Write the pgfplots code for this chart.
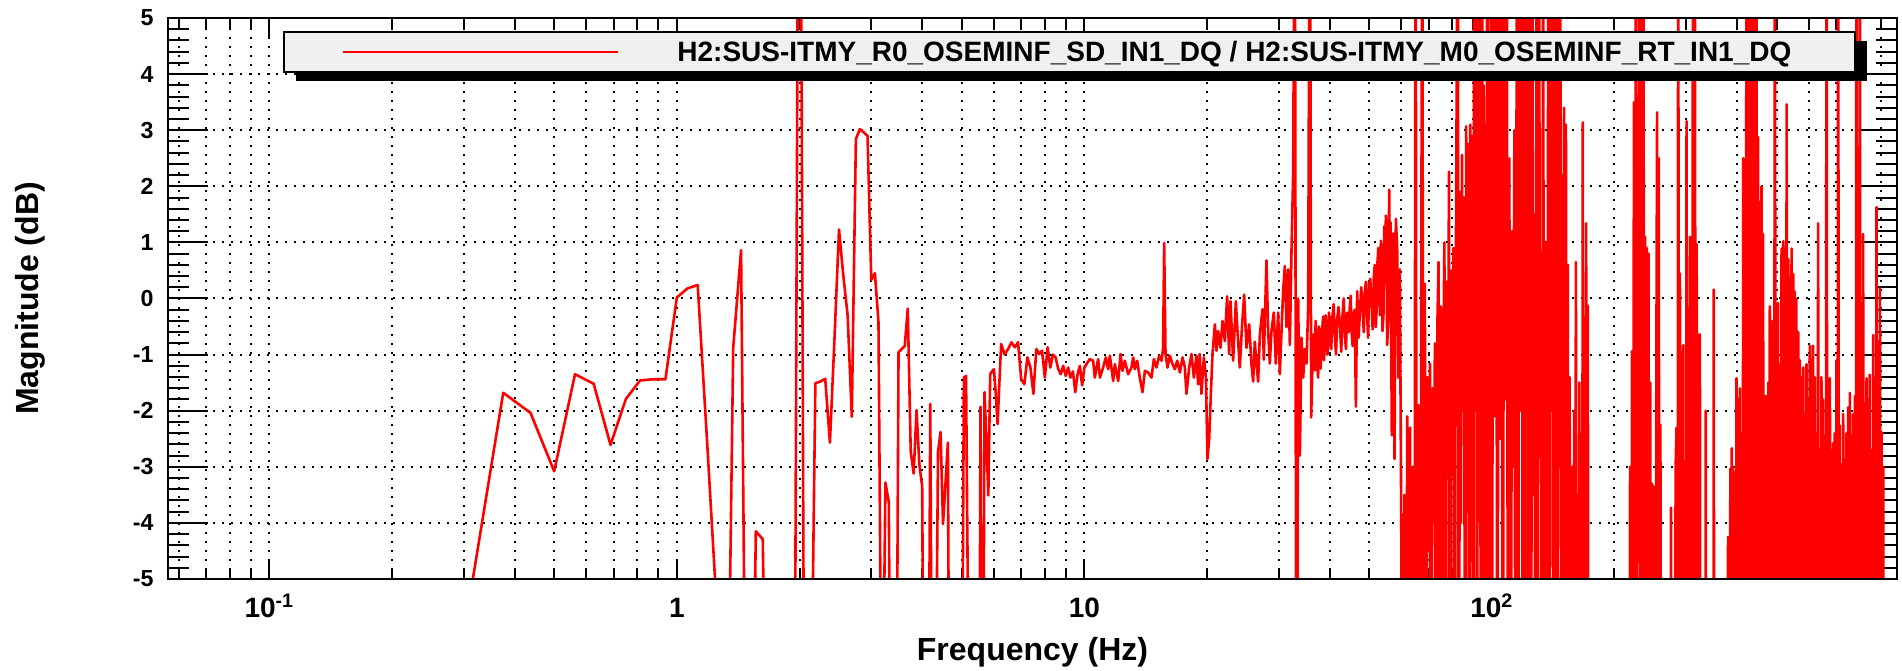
\documentclass[border=0pt]{standalone}
\usepackage{fontspec}
\setmainfont{Liberation Sans}
\usepackage{pgfplots}
\pgfplotsset{compat=1.18}
\definecolor{legbg}{RGB}{240,240,240}

\begin{document}
\begin{tikzpicture}[font=\bfseries]
\begin{axis}[name=ax, scale only axis, width=864.5pt, height=280.5pt,
  xmode=log, xmin=0.0564, xmax=987, ymin=-5, ymax=5,
  xtick={0.1,1,10,100}, xticklabels={10\textsuperscript{-1},1,10,10\textsuperscript{2}},
  minor xtick={0.06,0.07,0.08,0.09,0.2,0.3,0.4,0.5,0.6,0.7,0.8,0.9,2,3,4,5,6,7,8,9,
    20,30,40,50,60,70,80,90,200,300,400,500,600,700,800,900},
  ytick={-5,-4,-3,-2,-1,0,1,2,3,4,5}, yticklabels={-5,-4,-3,-2,-1,0,1,2,3,4,5},
  minor y tick num=4,
  tick align=inside, tick pos=both, xticklabel pos=lower, yticklabel pos=left,
  xmajorgrids, xminorgrids, ymajorgrids,
  major grid style={black, line width=1pt, dash pattern=on 1.2pt off 3.3pt},
  minor grid style={black, line width=1pt, dash pattern=on 1.2pt off 3.3pt},
  axis line style={line width=1.2pt},
  xtick style={black, line width=1pt, /pgfplots/major tick length=10pt, /pgfplots/minor tick length=5.5pt},
  ytick style={black, line width=1pt, /pgfplots/major tick length=20pt, /pgfplots/minor tick length=10.5pt},
  xticklabel style={font=\fontsize{14}{16}\bfseries\selectfont, anchor=base, inner sep=0pt, yshift=-19.5pt},
  yticklabel style={font=\fontsize{11.6}{13}\bfseries\selectfont, anchor=east, inner sep=0pt, xshift=-7pt},
]
\addplot[red, line width=1.3pt, line join=round] coordinates {
% 0.06 - 6 Hz
(0.0625,-12) (0.125,-12) (0.1875,-12) (0.25,-12) (0.3125,-5.2) (0.375,-1.68) (0.4375,-2.04) (0.5,-3.08)
(0.5625,-1.35) (0.625,-1.52) (0.6875,-2.61) (0.75,-1.79) (0.8125,-1.46) (0.875,-1.44) (0.9375,-1.44) (1,0.02)
(1.0625,0.18) (1.125,0.24) (1.1875,-2.6) (1.25,-5.4) (1.3125,-12) (1.375,-0.88) (1.4375,0.86) (1.5,-14)
(1.5625,-4.15) (1.625,-4.29) (1.6875,-12) (1.75,-12) (1.8125,-12) (1.875,-12) (1.9375,-12) (2,14)
(2.0625,-12) (2.125,-9) (2.1875,-1.51) (2.25,-1.48) (2.3125,-1.43) (2.375,-2.57) (2.4375,-0.7) (2.5,1.23)
(2.5625,0.4) (2.625,-0.3) (2.6875,-2.11) (2.75,2.84) (2.8125,3.02) (2.875,2.96) (2.9375,2.9) (3,0.33)
(3.0625,0.45) (3.125,-0.42) (3.1875,-9) (3.25,-3.28) (3.3125,-3.63) (3.375,-12) (3.4375,-12) (3.5,-0.96)
(3.5625,-0.9) (3.625,-0.85) (3.6875,-0.18) (3.75,-2.73) (3.8125,-3.12) (3.875,-1.99) (3.9375,-2.96) (4,-3.35)
(4.0625,-12) (4.125,-12) (4.1875,-1.88) (4.25,-12) (4.3125,-8) (4.375,-2.73) (4.4375,-2.38) (4.5,-4.02)
(4.5625,-3.3) (4.625,-2.57) (4.6875,-12) (4.75,-12) (4.8125,-12) (4.875,-12) (4.9375,-12) (5,-9)
(5.0625,-1.41) (5.125,-1.38) (5.1875,-6) (5.25,-12) (5.3125,-12) (5.375,-12) (5.4375,-12) (5.5,-12)
(5.5625,-1.93) (5.625,-12) (5.6875,-1.67) (5.75,-2.5) (5.8125,-3.51) (5.875,-1.35) (5.9375,-1.3) (6,-1.26)
(6.0625,-1.7) (6.125,-2.24) (6.1875,-1.5)
% 6 - 10 Hz
(6.25,-0.81) (6.375,-1.0) (6.5,-0.9) (6.625,-0.78) (6.75,-0.87) (6.875,-0.78) (7,-1.44) (7.125,-1.53)
(7.25,-1.05) (7.375,-1.23) (7.5,-1.7) (7.625,-0.9) (7.75,-0.99) (7.875,-0.93) (8,-1.41) (8.125,-0.87)
(8.25,-1.23) (8.375,-1.0) (8.5,-1.05) (8.625,-1.25) (8.75,-1.35) (8.875,-1.2) (9,-1.38) (9.125,-1.23)
(9.25,-1.41) (9.375,-1.3) (9.5,-1.67) (9.625,-1.35) (9.75,-1.2) (9.875,-1.55)
% 10 - 26 Hz
(10.0,-1.23) (10.12,-1.17) (10.31,-1.08) (10.51,-1.11) (10.61,-1.41) (10.81,-1.08) (10.92,-1.41) (11.12,-1.23)
(11.29,-1.05) (11.44,-1.26) (11.55,-1.02) (11.77,-1.47) (11.88,-1.17) (12.11,-1.47) (12.27,-0.99) (12.41,-1.29)
(12.57,-1.11) (12.81,-1.35) (13.05,-1.23) (13.18,-1.05) (13.3,-1.26) (13.48,-1.11) (13.68,-1.41) (13.89,-1.67)
(14.08,-1.29) (14.34,-1.32) (14.62,-1.41) (14.81,-1.08) (15.04,-1.23) (15.26,-1.02) (15.47,-1.11) (15.61,-0.88)
(15.7,0.99) (15.82,-0.99) (16,-1.23) (16.21,-1.02) (16.46,-1.17) (16.68,-1.26) (16.9,-1.11) (17.16,-1.32)
(17.42,-1.05) (17.65,-1.23) (17.81,-1.7) (18.09,-1.23) (18.32,-0.99) (18.57,-1.41) (18.85,-1.02) (19.02,-1.53)
(19.2,-0.99) (19.38,-1.7) (19.65,-1.05) (19.88,-1.41) (20.05,-2.86) (20.25,-2.5) (20.44,-1.7) (20.63,-0.99)
(20.91,-0.46) (21.1,-0.93) (21.3,-0.58) (21.58,-0.88) (21.83,-0.4) (22.12,-0.76) (22.41,0.04) (22.66,-0.99)
(22.84,-0.05) (23.18,-1.11) (23.54,-0.05) (23.76,-0.58) (24.07,-1.23) (24.39,-0.46) (24.67,0.07) (25,-0.88)
(25.38,-0.46) (25.71,-1.17)
% 26 - 60 Hz
(25.96,-1.48) (26.2,-0.77) (26.45,-1.16) (26.7,-1.48) (26.96,-0.64) (27.37,-0.19) (27.57,-1.09) (27.99,0.68)
(28.25,-0.58) (28.52,-1.16) (28.79,-0.58) (29.17,-0.25) (29.5,-1.16) (29.9,-0.25) (30.18,-1.35) (30.47,-0.58)
(30.75,0.13) (31.05,0.58) (31.34,-0.51) (31.64,0.52) (31.94,-0.83) (32.25,0.9) (32.55,2.26) (32.86,9)
(33.17,-12) (33.48,0) (33.8,-2.8) (34.12,-0.7) (34.44,-1.41) (34.77,-0.9) (35.1,-1.16) (35.43,-0.13)
(35.76,9) (36.03,-2.12) (36.44,-0.64) (36.6,-1.1) (36.78,-1.28) (36.95,-0.4) (37.13,-0.77) (37.3,-1.2)
(37.48,-1.41) (37.65,-0.5) (37.84,-0.64) (38.0,-1.25) (38.19,-0.96) (38.35,-0.55) (38.56,-0.32) (38.75,-1.1)
(38.92,-0.77) (39.1,-0.3) (39.29,-0.58) (39.5,-1.0) (39.66,-0.83) (39.85,-0.25) (40.04,-0.45) (40.35,-0.9)
(40.64,-0.32) (40.9,-0.1) (41.18,-0.64) (41.45,-1.0) (41.73,-0.38) (42.05,-0.15) (42.36,-0.45) (42.7,-0.95)
(43,-0.32) (43.3,0.0) (43.58,-0.64) (43.85,-0.9) (44.16,-0.25) (44.5,-0.6) (44.83,-0.13) (45.05,0.05)
(45.25,-0.58) (45.55,-0.85) (45.85,-0.25) (46.1,-0.2) (46.38,-1.93) (46.72,0.13) (47.1,-0.7) (47.44,-0.25)
(47.8,0.2) (48.15,-0.13) (48.5,-0.6) (48.79,0.13) (49.1,0.3) (49.44,-0.32) (49.7,-0.7) (50,0.26)
(50.3,0.35) (50.66,-0.06) (51.0,-0.55) (51.33,0.39) (51.6,0.6) (51.92,-0.51) (52.15,-0.2) (52.41,0.65)
(52.65,0.9) (52.91,0.26) (53.15,-0.3) (53.41,1.03) (53.65,0.6) (53.92,-0.58) (54.2,-0.3) (54.43,1.29)
(54.7,0.4) (54.95,1.48) (55.15,0.9) (55.35,-0.83) (55.7,-0.4) (55.99,1.94) (56.2,0.5) (56.41,1.36)
(56.83,-2.44) (57.27,1.16) (57.7,-2.86) (58.14,1.42) (58.58,0.9) (59.02,-1.41) (59.47,0.52)
% 60 - 100 Hz
(60,-4.6) (60.5,-12) (61,-3.5) (61.5,-12) (62,-2.1) (62.5,-9) (63,-2.3) (63.5,-12)
(64,-3.0) (64.5,-12) (65,9) (65.5,-12) (66,-1.9) (66.5,-12) (67,-2.7) (67.5,9)
(68,-12) (68.5,0.26) (69,-12) (69.5,-1.4) (70,-4.5) (70.5,-1.16) (71,-12) (71.5,-1.6)
(72,-4) (72.5,-0.8) (73,-12) (73.5,-0.5) (74,0.65) (74.5,-12) (75,-0.14) (75.5,-12)
(76,-1.2) (76.5,1.0) (77,-12) (77.5,0.3) (78,-3.2) (78.5,2.26) (79,-12) (79.5,0.5)
(80,-2.5) (80.5,0.9) (81,-12) (81.5,-0.3) (82,3.84) (82.5,9) (83,-12) (83.5,1.9)
(84,-4) (84.5,2.56) (85,-2) (85.5,1.8) (86,-12) (86.5,3.07) (87,-3) (87.5,2.75)
(88,-12) (88.5,3.1) (89,-1.5) (89.5,2.9) (90,-12) (90.5,9) (91,-2) (91.5,9)
(92,-12) (92.5,9) (93,-2.5) (93.5,9) (94,-12) (94.5,9) (95,-1) (95.5,3.8)
(96,-12) (96.5,3.1) (97,-2) (97.5,9) (98,-12) (98.5,3.5) (99,-1.5) (99.5,9)
(100,-12)
% 100 - 175 Hz
(100.8,9) (101.6,-2.1) (102.4,9) (103.2,-12) (104,9) (104.8,-2.5) (105.6,9) (106.4,-12)
(107.2,9) (108,-1.8) (108.8,9) (109.6,-12) (110.4,2.5) (111.2,-12) (112,1.2) (112.8,-3)
(113.6,3.0) (114.4,-12) (115.2,9) (116,-12) (116.8,9) (117.6,-2) (118.4,9) (119.2,-12)
(120,9) (120.8,-12) (121.6,9) (122.4,0.3) (123.2,-12) (124,9) (124.8,-12) (125.6,9)
(126.4,-3.5) (127.2,1.5) (128,-12) (128.8,9) (129.6,-12) (130.4,9) (131.2,-1) (132,0.6)
(132.8,-12) (133.6,9) (134.4,-12) (135.2,1.0) (136,-0.85) (136.8,-12) (137.6,9) (138.4,-12)
(139.2,9) (140,-2) (140.8,9) (141.6,-12) (142.4,9) (143.2,-12) (144,9) (144.8,-12)
(145.6,9) (146.4,-3) (147.2,9) (148,-12) (148.8,2.2) (149.6,-12) (150.4,3.4) (151.2,-2)
(152,3.1) (152.8,-12) (153.6,0.6) (154.4,-12) (155.2,-1.4) (156,-12) (156.8,-12) (157.6,-3)
(158.4,-12) (159.2,-2) (160,-12) (160.8,0.65) (161.6,-12) (162.4,-3.5) (163.2,-12) (164,-1.5)
(164.8,-12) (165.6,-2.5) (166.4,-12) (167.2,3.14) (168,-12) (168.8,-1) (169.6,-12) (170.4,1.34)
(171.2,-12) (172,-0.13) (172.8,-12) (180,-12) (200,-12) (214,-12)
% 215 - 262 Hz
(216,-12) (217.2,-12) (218.4,-3) (219.6,-12) (220.8,-0.94) (222,-12) (223.2,3.5) (224.4,-12)
(225.6,9) (226.8,-12) (228,3.6) (229.2,-2.5) (230.4,9) (231.6,-12) (232.8,9) (234,-12)
(235.2,9) (236.4,-3) (237.6,1.1) (238.8,-12) (240,0.9) (241.2,-12) (242.4,0.8) (243.6,-12)
(244.8,-1.5) (246,-12) (247.2,-3.3) (248.4,-12) (249.6,-3.35) (250.8,-12) (252,-12) (253.2,-2)
(254.4,3.32) (255.6,-12) (256.8,2.5) (258,-12) (259.2,-2.25) (260.4,-12)
(265,-12) (270,-12) (274.5,-12) (275.2,-3.73) (276,-12) (280,-12)
% 281 - 375 Hz
(281,-12) (282.5,-3) (284,-2.3) (285.5,-12) (286.7,9) (288,-12) (289.4,0.45) (291,-4)
(292.5,-12) (294,-1.5) (295,-0.83) (296.5,-12) (298,-3.5) (299.5,-12) (300.5,3.16) (302,-12)
(303.3,-1.54) (304.8,-12) (306.2,1.1) (307.5,-3) (309,-12) (310.5,-2) (312,9) (313.5,-12)
(315,9) (316.5,-12) (318,0.97) (319.5,-2.5) (321,-12) (322.5,-1.5) (324,-0.64) (325.5,-12)
(327,-12) (334,-12) (335,-2) (336,-12) (349.5,-12) (350.5,0.16) (351.5,-12) (365,-12) (376,-12)
% 376 - 990 Hz
(380,-4.25) (382,-12) (385,-3.03) (386.5,-12) (388,-2.67) (389.5,-12) (391,-3.0) (393,-12)
(395,-3.1) (397,-12) (398.6,-1.42) (400,-12) (402,-1.8) (404,-12) (406,-1.6) (408,-12)
(410,-2.4) (412,-12) (414,2.5) (416,-12) (418,2.4) (420,-4) (422,9) (424,-12)
(426,9) (428,-12) (430,3.5) (432,-12) (434,9) (436,-3) (438,9) (440,-12)
(442,3.07) (444,-12) (446,9) (448,-12) (450,2.88) (452.5,-12) (455,1.72) (457,-12)
(459,2.0) (461,-3.5) (463,1.15) (465.5,-12) (468,-1.74) (470,-12) (472,-1.74) (474.5,-12)
(477,-1.5) (479,-4) (481,-0.14) (483.5,-12) (486,-0.4) (488,-12) (490,-1.0) (492.5,-12)
(495,9) (497.5,-12) (500,-0.46) (502,-12) (504,-0.08) (506.5,-12) (509,-1.17) (511.5,-12)
(514,0.89) (516.5,-3.2) (519,1.02) (521.5,-12) (524,0.9) (526.5,-12) (529,3.46) (531.5,-12)
(534,0.7) (536.5,-12) (539,0.38) (541.5,-4) (544,0.89) (546.5,-12) (549,0.44) (551.5,-12)
(554,0.12) (556.5,-12) (559,-0.01) (562,-12) (565,-0.6) (567.5,-12) (570,-1.1) (572.5,-3.6)
(575,-1.4) (578,-12) (581,-1.23) (583.5,-12) (586,-2.06) (589,-12) (592,-1.17) (594.5,-12)
(597,-1.8) (600,-12) (603,-0.84) (606,-12) (609,-1.1) (611.5,-12) (614,-0.84) (617,-4.2)
(620,-1.4) (623,-12) (626,-2.4) (629,-12) (632,1.34) (635,-12) (638,-2.7) (641,-12)
(644,-1.4) (647,-12) (650,-1.8) (653,-12) (656,-2.45) (659.5,-12) (663,9) (666,-12)
(669,-1.74) (672,-12) (675,-1.42) (678,-3.8) (681,-2.7) (684.5,-12) (688,-2.58) (691,-12)
(694,-2.4) (697.5,-12) (701,-1.1) (704.5,-12) (708,9) (711,-12) (714,-2.26) (717.5,-12)
(721,-2.96) (724.5,-12) (728,-2.06) (731.5,-4.2) (735,-3.0) (738.5,-12) (742,-2.4) (745.5,-12)
(749,-1.94) (752.5,-12) (756,-1.68) (759.5,-12) (763,-2.45) (766.5,-12) (770,-2.06) (774,-12)
(778,-1.74) (781.5,-12) (785,9) (788.5,-12) (792,-0.04) (796,-12) (800,9) (803.5,-12)
(807,-1.42) (811,-12) (815,1.15) (819,-12) (823,-1.87) (827,-3.5) (831,-1.42) (835,-12)
(839,-1.8) (842.5,-12) (846,-1.36) (850,-12) (854,-2.7) (858.5,-12) (863,-0.65) (867,-12)
(871,-1.42) (875,-12) (879,1.63) (883,-12) (887,-0.77) (891.5,-12) (896,0.18) (900,-12)
(904,-2.38) (908.5,-12) (913,-3.0) (916,-12) (950,-12) (987,-12)
};
\end{axis}
\draw[line width=1.2pt] (ax.south west) rectangle (ax.north east);
% legend with shadow
\fill[black] ([xshift=64pt,yshift=-11.5pt]ax.north west) rectangle ([xshift=849.5pt,yshift=-31.5pt]ax.north west);
\filldraw[fill=legbg, draw=black, line width=1pt] ([xshift=58pt,yshift=-7pt]ax.north west) rectangle ([xshift=843.5pt,yshift=-27pt]ax.north west);
\draw[red, line width=1.2pt] ([xshift=87.5pt,yshift=-17pt]ax.north west) -- ++(137.5pt,0);
\node[anchor=base west, inner sep=0pt, font=\fontsize{14}{16}\bfseries\selectfont]
  at ([xshift=254.5pt,yshift=-22pt]ax.north west)
  {H2:SUS-ITMY\_R0\_OSEMINF\_SD\_IN1\_DQ / H2:SUS-ITMY\_M0\_OSEMINF\_RT\_IN1\_DQ};
% axis titles
\node[anchor=base, inner sep=0pt, font=\fontsize{16}{18}\bfseries\selectfont] at ([yshift=-40.5pt]ax.south) {Frequency (Hz)};
\node[anchor=base, rotate=90, inner sep=0pt, font=\fontsize{16}{18}\bfseries\selectfont] at ([xshift=-64.85pt]ax.west) {Magnitude (dB)};
% page size
\path ([xshift=-84pt,yshift=-45.5pt]ax.south west) rectangle ([xshift=2.5pt,yshift=9pt]ax.north east);
\end{tikzpicture}
\end{document}
